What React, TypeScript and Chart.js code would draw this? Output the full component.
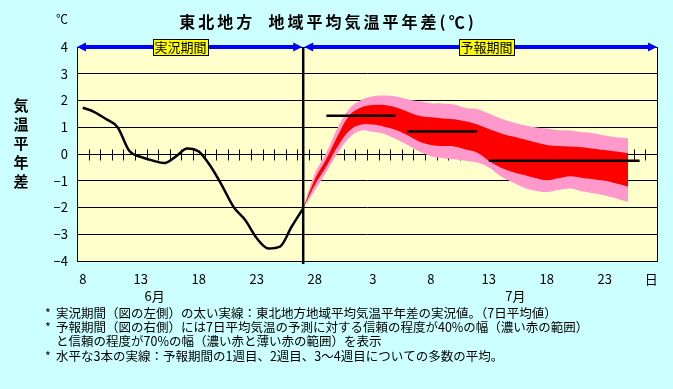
import React, { useEffect, useRef } from 'react';
import { Chart, registerables } from 'chart.js';

Chart.register(...registerables);

// ---- data ----
const dayLabels: string[] = [
  '8', '9', '10', '11', '12', '13', '14', '15', '16', '17', '18', '19', '20', '21', '22', '23', '24', '25', '26', '27', '28', '29', '30',
  '1', '2', '3', '4', '5', '6', '7', '8', '9', '10', '11', '12', '13', '14', '15', '16', '17', '18', '19', '20', '21', '22', '23', '24', '25', '26', '27',
];
const shownTickIndex: number[] = [0, 5, 10, 15, 20, 25, 30, 35, 40, 45];
const dayUnitLabel = '日';
const dayUnitIndex = 49;

// observed 7-day mean anomaly, June 8 .. June 27 (index 0..19)
const observed: number[] = [
  1.73, 1.57, 1.31, 1.0, 0.12, -0.11, -0.24, -0.34, -0.1, 0.21,
  0.09, -0.45, -1.18, -1.98, -2.47, -3.15, -3.53, -3.46, -2.72, -2.03,
];

// forecast bands, June 27 .. July 25 (index 19..47)
const forecastStart = 19;
const upper70: number[] = [
  -2.03, -0.74, 0.05, 1.0, 1.7, 2.02, 2.16, 2.19, 2.15, 2.05,
  1.97, 1.9, 1.89, 1.85, 1.72, 1.68, 1.51, 1.33, 1.2, 1.08,
  1.0, 0.95, 0.89, 0.88, 0.82, 0.78, 0.69, 0.63, 0.59,
];
const upper40: number[] = [
  -2.03, -0.95, -0.18, 0.7, 1.45, 1.74, 1.83, 1.83, 1.74, 1.58,
  1.43, 1.37, 1.33, 1.3, 1.22, 1.1, 0.93, 0.78, 0.66, 0.55,
  0.44, 0.34, 0.3, 0.28, 0.25, 0.2, 0.15, 0.09, 0.03,
];
const lower40: number[] = [
  -2.03, -1.16, -0.46, 0.3, 0.88, 1.1, 1.1, 1.02, 0.9, 0.7,
  0.47, 0.34, 0.3, 0.28, 0.17, 0.05, -0.25, -0.5, -0.66, -0.78,
  -0.9, -0.98, -0.91, -0.83, -0.89, -0.94, -1.0, -1.1, -1.22,
];
const lower70: number[] = [
  -2.03, -1.36, -0.66, 0.05, 0.62, 0.88, 0.83, 0.75, 0.55, 0.34,
  0.1, -0.08, -0.15, -0.2, -0.25, -0.32, -0.5, -0.82, -1.05, -1.25,
  -1.37, -1.42, -1.35, -1.29, -1.39, -1.47, -1.55, -1.66, -1.79,
];

// ensemble means: week 1, week 2, weeks 3-4
const meanWeek1 = { from: 21, to: 27, value: 1.43 };
const meanWeek2 = { from: 28, to: 34, value: 0.84 };
const meanWeek34 = { from: 35, to: 48, value: -0.25 };

const yTicks = { min: -4, max: 4, step: 1 };

const titleText = '東北地方  地域平均気温平年差(℃)';
const unitText = '℃';
const yTitleChars = ['気', '温', '平', '年', '差'];
const monthLabels = [
  { text: '6月', pos: 6.2 },
  { text: '7月', pos: 37.3 },
];
const periodLabels = [
  { text: '実況期間', pos: 8.42 },
  { text: '予報期間', pos: 34.8 },
];
const dividerIndex = 19;
const notes = [
  { star: true, text: '実況期間（図の左側）の太い実線：東北地方地域平均気温平年差の実況値。（7日平均値）' },
  { star: true, text: '予報期間（図の右側）には7日平均気温の予測に対する信頼の程度が40%の幅（濃い赤の範囲）' },
  { star: false, text: 'と信頼の程度が70%の幅（濃い赤と薄い赤の範囲）を表示' },
  { star: true, text: '水平な3本の実線：予報期間の1週目、2週目、3～4週目についての多数の平均。' },
];

// ---- helpers ----
const N = dayLabels.length;
function padSeries(start: number, vals: number[]): (number | null)[] {
  const out: (number | null)[] = new Array(N).fill(null);
  vals.forEach((v, i) => { out[start + i] = v; });
  return out;
}
function meanSeries(m: { from: number; to: number; value: number }): (number | null)[] {
  const out: (number | null)[] = new Array(N).fill(null);
  for (let i = m.from; i <= m.to; i++) out[i] = m.value;
  return out;
}

const FONT = '"Noto Sans CJK JP", "Noto Sans", sans-serif';

const decorPlugin = {
  id: 'decor',
  beforeDraw(chart: any) {
    const { ctx, chartArea: a } = chart;
    ctx.save();
    ctx.fillStyle = '#FFFFCC';
    ctx.fillRect(a.left, a.top, a.right - a.left, a.bottom - a.top);
    ctx.restore();
  },
  beforeDatasetsDraw(chart: any) {
    const { ctx, chartArea: a, scales } = chart;
    const x = scales.x;
    const y0 = Math.round(scales.y.getPixelForValue(0)) + 0.5;
    ctx.save();
    ctx.strokeStyle = '#000';
    ctx.lineWidth = 1;
    ctx.beginPath();
    for (let k = 1; k < N; k++) {
      const px = Math.round(x.getPixelForValue(k - 0.5)) + 0.5;
      ctx.moveTo(px, y0 - 5);
      ctx.lineTo(px, y0 + 6);
    }
    ctx.stroke();
    ctx.strokeRect(Math.round(a.left) + 0.5, Math.round(a.top) + 0.5, Math.round(a.right - a.left), Math.round(a.bottom - a.top));
    ctx.restore();
  },
  afterDatasetsDraw(chart: any) {
    const { ctx, chartArea: a, scales } = chart;
    const px = scales.x.getPixelForValue(dividerIndex);
    ctx.save();
    ctx.strokeStyle = '#000';
    ctx.lineWidth = 2.5;
    ctx.beginPath();
    ctx.moveTo(px, a.top);
    ctx.lineTo(px, a.bottom + 3);
    ctx.stroke();
    ctx.restore();
  },
  afterDraw(chart: any) {
    const { ctx, chartArea: a, scales } = chart;
    const x = scales.x;
    const ctr = x.getPixelForValue(dividerIndex);
    const yTop = a.top;
    ctx.save();

    // blue arrows
    const arrow = (x1: number, x2: number) => {
      ctx.strokeStyle = '#0000FF';
      ctx.fillStyle = '#0000FF';
      ctx.lineWidth = 4;
      ctx.beginPath();
      ctx.moveTo(x1 + 4, yTop);
      ctx.lineTo(x2 - 4, yTop);
      ctx.stroke();
      ctx.beginPath();
      ctx.moveTo(x1, yTop);
      ctx.lineTo(x1 + 9, yTop - 4.5);
      ctx.lineTo(x1 + 9, yTop + 4.5);
      ctx.closePath();
      ctx.fill();
      ctx.beginPath();
      ctx.moveTo(x2, yTop);
      ctx.lineTo(x2 - 9, yTop - 4.5);
      ctx.lineTo(x2 - 9, yTop + 4.5);
      ctx.closePath();
      ctx.fill();
    };
    arrow(a.left, ctr - 1);
    arrow(ctr + 1, a.right);

    // period boxes
    ctx.font = `13px ${FONT}`;
    ctx.textAlign = 'center';
    ctx.textBaseline = 'middle';
    periodLabels.forEach((p) => {
      const cx = x.getPixelForValue(p.pos);
      const w = 55, h = 16;
      ctx.fillStyle = '#FFFF00';
      ctx.fillRect(Math.round(cx - w / 2), Math.round(yTop - h / 2), w, h);
      ctx.strokeStyle = '#000';
      ctx.lineWidth = 1;
      ctx.strokeRect(Math.round(cx - w / 2) + 0.5, Math.round(yTop - h / 2) + 0.5, w, h);
      ctx.fillStyle = '#000';
      ctx.fillText(p.text, cx, yTop + 0.5);
    });

    // title
    ctx.fillStyle = '#000';
    ctx.font = `bold 16px ${FONT}`;
    (ctx as any).letterSpacing = '3px';
    ctx.textAlign = 'center';
    ctx.fillText(titleText, 328, 22);
    (ctx as any).letterSpacing = '0px';

    // unit
    ctx.font = `12px ${FONT}`;
    ctx.fillText(unitText, 62, 19);

    // y title
    ctx.font = `bold 15px ${FONT}`;
    yTitleChars.forEach((c, i) => ctx.fillText(c, 21, 105 + i * 19));

    // month labels
    ctx.font = `13px ${FONT}`;
    monthLabels.forEach((m) => ctx.fillText(m.text, x.getPixelForValue(m.pos), 296));

    // notes
    ctx.font = `12.5px ${FONT}`;
    ctx.textAlign = 'left';
    notes.forEach((n, i) => {
      const yy = 313 + i * 14.3;
      if (n.star) ctx.fillText('*', 45, yy);
      ctx.fillText(n.text, 56, yy);
    });
    ctx.restore();
  },
};

export default function App() {
  const ref = useRef<HTMLCanvasElement | null>(null);
  useEffect(() => {
    if (!ref.current) return;
    const bandBase = { pointRadius: 0, borderWidth: 0, borderColor: 'rgba(0,0,0,0)', tension: 0.4, spanGaps: false };
    const meanBase = { pointRadius: 0, borderWidth: 2.5, borderColor: '#000', fill: false, tension: 0 };
    const chart = new Chart(ref.current, {
      type: 'line',
      data: {
        labels: dayLabels,
        datasets: [
          { label: 'observed', data: padSeries(0, observed), borderColor: '#000', borderWidth: 2.5, pointRadius: 0, fill: false, cubicInterpolationMode: 'monotone' } as any,
          { label: 'week1', data: meanSeries(meanWeek1), ...meanBase } as any,
          { label: 'week2', data: meanSeries(meanWeek2), ...meanBase } as any,
          { label: 'week34', data: meanSeries(meanWeek34), ...meanBase } as any,
          { label: 'upper40', data: padSeries(forecastStart, upper40), ...bandBase, fill: '+1', backgroundColor: '#FF0000' } as any,
          { label: 'lower40', data: padSeries(forecastStart, lower40), ...bandBase, fill: false } as any,
          { label: 'upper70', data: padSeries(forecastStart, upper70), ...bandBase, fill: '+1', backgroundColor: '#FF99CC' } as any,
          { label: 'lower70', data: padSeries(forecastStart, lower70), ...bandBase, fill: false } as any,
        ],
      },
      options: {
        responsive: false,
        devicePixelRatio: 1,
        animation: false,
        events: [],
        layout: { padding: { top: 47, right: 16, left: 0, bottom: 0 } },
        plugins: {
          legend: { display: false },
          tooltip: { enabled: false },
          title: { display: false },
        },
        scales: {
          x: {
            type: 'category',
            offset: true,
            grid: { display: false, drawTicks: false },
            border: { display: true, color: '#000' },
            ticks: {
              autoSkip: false,
              maxRotation: 0,
              padding: 10,
              color: '#000',
              font: { family: FONT, size: 13 },
              callback: (_v: any, idx: number) =>
                idx === dayUnitIndex ? dayUnitLabel : shownTickIndex.includes(idx) ? dayLabels[idx] : '',
            },
            afterFit: (s: any) => { s.height = 128; },
          },
          y: {
            min: yTicks.min,
            max: yTicks.max,
            grid: { color: '#000', lineWidth: 1, drawTicks: false },
            border: { display: true, color: '#000' },
            ticks: {
              stepSize: yTicks.step,
              padding: 9,
              color: '#000',
              font: { family: FONT, size: 13 },
              callback: (v: any) => (v < 0 ? '−' + Math.abs(v) : String(v)),
            },
            afterFit: (s: any) => { s.width = 77; },
          },
        },
      } as any,
      plugins: [decorPlugin],
    });
    return () => chart.destroy();
  }, []);
  return (
    <div style={{ position: 'fixed', left: 0, top: 0, width: 673, height: 389, background: '#CCFFFF' }}>
      <canvas ref={ref} width={673} height={389} style={{ display: 'block' }} />
    </div>
  );
}
